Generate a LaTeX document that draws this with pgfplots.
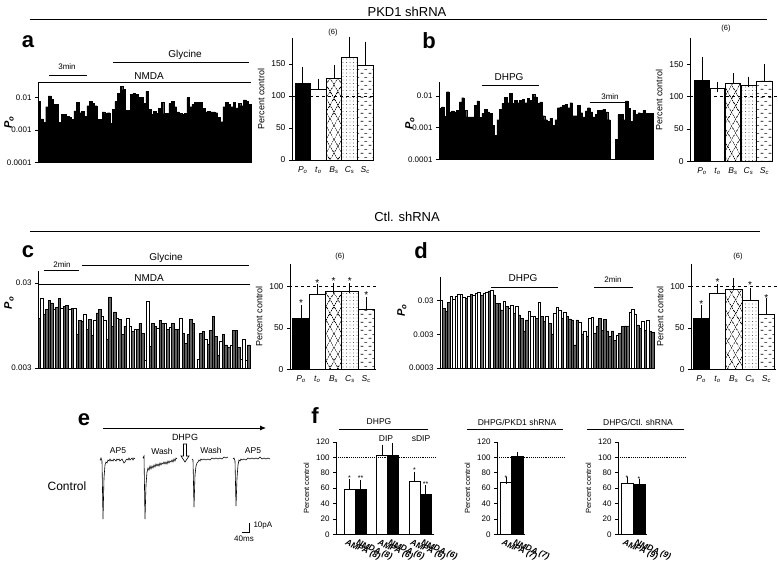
\documentclass[border=0pt]{standalone}
\usepackage{fontspec}
\setmainfont{Liberation Sans}
\usepackage{pgfplots}
\pgfplotsset{compat=1.18}
\usetikzlibrary{patterns,patterns.meta,arrows.meta}
\pgfdeclarepatternformonly{hdash}{\pgfqpoint{0pt}{0pt}}{\pgfqpoint{8pt}{8pt}}{\pgfqpoint{8pt}{8pt}}{%
  \pgfsetlinewidth{0.7pt}%
  \pgfpathmoveto{\pgfqpoint{0.8pt}{2pt}}\pgfpathlineto{\pgfqpoint{3.6pt}{2pt}}%
  \pgfpathmoveto{\pgfqpoint{4.8pt}{6pt}}\pgfpathlineto{\pgfqpoint{7.6pt}{6pt}}%
  \pgfusepath{stroke}}
\newcommand{\fs}[1]{\fontsize{#1}{#1}\selectfont}
\newcommand{\sub}[2]{\textit{#1}\textsubscript{\textit{#2}}}
\pgfplotsset{
  myBase/.style={scale only axis, axis lines*=left, tick align=outside,
    axis line style={line width=0.8pt},
    every tick/.style={black, line width=0.8pt}, major tick length=3pt,
    clip=false, /pgf/number format/assume math mode=true},
  mySeries/.style={myBase, xtick=\empty, yminorticks=false, xmin=-0.5,
    tick label style={font=\fs{8}},
    ylabel={\textbf{\sub{P}{o}}}, ylabel style={font=\fs{11}, anchor=center}},
  myChart/.style={myBase, ymin=0, xtick style={draw=none},
    tick label style={font=\fs{8.5}},
    ylabel={Percent control}, ylabel style={font=\fs{9}},
    xticklabels={\sub{P}{o},\sub{t}{o},\sub{B}{s},\sub{C}{s},\sub{S}{c}}},
  myF/.style={myBase, ymin=0, ymax=120, ytick={0,20,...,120}, xtick style={draw=none},
    tick label style={font=\fs{8}}, ylabel={Percent control}, ylabel style={font=\fs{7.5}},
    xticklabel style={font=\fs{8.5}\bfseries\itshape, rotate=-23, anchor=north west, xshift=-5pt, yshift=1pt}},
  myEb/.style={ybar, bar shift=0pt, draw=black, line width=0.9pt,
    error bars/.cd, y dir=plus, y explicit, error bar style={line width=0.9pt, solid},
    error mark options={line width=0.9pt, mark size=#1}},
  grayb/.style={ybar, bar width=1, bar shift=0pt, draw=black, line width=0.55pt, fill=black!62},
  whiteb/.style={ybar, bar width=1, bar shift=0pt, draw=black, line width=0.55pt, fill=white},
  blackb/.style={ybar, bar width=1, bar shift=0pt, draw=black, line width=0.3pt, fill=black},
  hatchx/.style={fill=white, postaction={pattern={Lines[angle=60,distance=6.5pt,line width=0.6pt]}},
    postaction={pattern={Lines[angle=-60,distance=6.5pt,line width=0.6pt]}}},
  dotsp/.style={fill=white, postaction={pattern={Dots[distance=3.5pt,radius=0.45pt]}}},
  dashp/.style={fill=white, postaction={pattern=hdash}},
}
\begin{document}
\begin{tikzpicture}
\path[use as bounding box] (0,0) rectangle (778pt,563pt);

% ---------- panel a series
\begin{axis}[ymode=log, log origin=infty, mySeries, at={(38pt,400.5pt)}, anchor=south west, width=213pt, height=80.5pt,
  xmax=82.5, ymin=1e-4, ymax=0.030, ytick={1e-4,1e-3,1e-2}, yticklabels={0.0001,0.001,0.01},
  ylabel style={at={(axis description cs:-0.136,0.5)}}]
\addplot[blackb] table[row sep=\\, x expr=\coordindex, y=v] {v\\0.0075\\0.0022\\0.0017\\0.0052\\0.0113\\0.0089\\0.0062\\0.0062\\0.0017\\0.0030\\0.0030\\0.0026\\0.0025\\0.0021\\0.0039\\0.0071\\0.0034\\0.0038\\0.0026\\0.0056\\0.0077\\0.0066\\0.0056\\0.0021\\0.0021\\0.0036\\0.0032\\0.0034\\0.0016\\0.0044\\0.0075\\0.0137\\0.0222\\0.0175\\0.0041\\0.0041\\0.0127\\0.0137\\0.0127\\0.0100\\0.0100\\0.0066\\0.0155\\0.0043\\0.0030\\0.0038\\0.0032\\0.0046\\0.0070\\0.0032\\0.0032\\0.0066\\0.0075\\0.0052\\0.0036\\0.0032\\0.0030\\0.0032\\0.0100\\0.0052\\0.0062\\0.0070\\0.0070\\0.0070\\0.0046\\0.0036\\0.0038\\0.0036\\0.0036\\0.0034\\0.0025\\0.0018\\0.0052\\0.0070\\0.0062\\0.0052\\0.0070\\0.0048\\0.0066\\0.0056\\0.0084\\0.0075\\0.0062\\};
\end{axis}

% ---------- panel a chart
\begin{axis}[myChart, at={(292pt,403pt)}, anchor=south west, width=81pt, height=121.6pt,
  xmin=292, xmax=373, ymax=190, ytick={0,50,100,150}, xtick={302.8,318.4,334,349.6,365.2}]
\addplot[fill=black, bar width=15.6, myEb=5pt] coordinates {(302.8,120) +- (0,17)};
\addplot[fill=white, bar width=15.6, myEb=5pt] coordinates {(318.4,110) +- (0,9)};
\addplot[hatchx, bar width=15.6, myEb=5pt] coordinates {(334,127) +- (0,13)};
\addplot[dotsp, bar width=15.6, myEb=5pt] coordinates {(349.6,161) +- (0,24)};
\addplot[dashp, bar width=15.6, myEb=5pt] coordinates {(365.2,147) +- (0,30)};
\draw[dashed, line width=0.8pt] (axis cs:292,100) -- (axis cs:375,100);
\end{axis}

% ---------- panel b series
\begin{axis}[ymode=log, log origin=infty, mySeries, at={(439pt,403.5pt)}, anchor=south west, width=214pt, height=77.8pt,
  xmax=84.5, ymin=1e-4, ymax=0.0284, ytick={1e-4,1e-3,1e-2}, yticklabels={0.0001,0.001,0.01},
  ylabel style={at={(axis description cs:-0.136,0.46)}}]
\addplot[blackb] table[row sep=\\, x expr=\coordindex, y=v] {v\\0.0041\\0.0046\\0.0023\\0.0137\\0.0032\\0.0034\\0.0032\\0.0036\\0.0066\\0.0089\\0.0036\\0.0022\\0.0022\\0.0022\\0.0052\\0.0071\\0.0021\\0.0028\\0.0038\\0.0032\\0.0028\\0.0012\\0.00059\\0.0018\\0.0039\\0.0059\\0.0091\\0.0062\\0.0121\\0.0059\\0.0075\\0.0062\\0.0075\\0.0079\\0.0062\\0.0084\\0.0075\\0.0113\\0.0095\\0.0059\\0.0066\\0.0024\\0.0018\\0.0016\\0.0020\\0.0012\\0.0018\\0.0043\\0.0046\\0.0050\\0.0056\\0.0043\\0.0062\\0.0024\\0.0024\\0.0050\\0.0030\\0.0022\\0.0034\\0.0043\\0.0032\\0.0022\\0.0026\\0.0036\\0.0036\\0.0038\\0.0032\\0.0018\\0.0001\\0.0001\\0.00043\\0.0026\\0.0026\\0.0018\\0.0071\\0.0041\\0.0016\\0.0036\\0.0026\\0.0030\\0.0028\\0.0035\\0.0028\\0.0028\\0.0028\\};
\end{axis}

% ---------- panel b chart
\begin{axis}[myChart, at={(690pt,401.5pt)}, anchor=south west, width=83pt, height=123.4pt,
  xmin=690, xmax=773, ymax=190, ytick={0,50,100,150}, xtick={702,717.5,733,748.5,764.5}]
\addplot[fill=black, bar width=15.6, myEb=5pt] coordinates {(702,124.6) +- (0,28.4)};
\addplot[fill=white, bar width=14, myEb=5pt] coordinates {(717.5,112) +- (0,3)};
\addplot[hatchx, bar width=15.6, myEb=5pt] coordinates {(733,120.6) +- (0,7.4)};
\addplot[dotsp, bar width=15, myEb=5pt] coordinates {(748.5,116.5) +- (0,6.5)};
\addplot[dashp, bar width=15.6, myEb=5pt] coordinates {(764.5,124) +- (0,18)};
\draw[dashed, line width=0.8pt] (axis cs:690,100) -- (axis cs:777,100);
\end{axis}

% ---------- panel c series
\begin{axis}[ymode=log, log origin=infty, mySeries, at={(38pt,195pt)}, anchor=south west, width=212pt, height=97pt,
  xmax=83.5, ymin=0.003, ymax=0.0414, ytick={0.003,0.03}, yticklabels={0.003,0.03},
  ylabel style={at={(axis description cs:-0.137,0.67)}}]
\addplot[grayb] table[row sep=\\, x expr=\coordindex, y=g] {g w\\0.0116 nan\\nan 0.0200\\0.0127 nan\\0.0148 nan\\0.0186 nan\\0.0175 nan\\nan 0.0146\\0.0155 nan\\0.0196 nan\\nan 0.0152\\0.0159 nan\\0.0164 nan\\nan 0.0146\\0.0152 nan\\nan 0.0152\\0.0074 nan\\0.0108 nan\\0.0106 nan\\nan 0.0127\\0.0085 nan\\0.0111 nan\\0.0072 nan\\nan 0.0108\\0.0133 nan\\0.0148 nan\\nan 0.0122\\nan 0.0108\\0.0066 nan\\0.0205 nan\\0.0093 nan\\0.0137 nan\\nan 0.0116\\0.0111 nan\\0.0074 nan\\0.0093 nan\\nan 0.0116\\nan 0.0093\\0.0081 nan\\nan 0.0086\\0.0086 nan\\0.0101 nan\\0.0076 nan\\nan 0.0037\\nan 0.0182\\0.0054 nan\\0.0101 nan\\0.0093 nan\\nan 0.0087\\0.0109 nan\\0.0101 nan\\nan 0.0101\\0.0085 nan\\nan 0.0090\\0.0101 nan\\0.0085 nan\\0.0085 nan\\nan 0.0116\\0.0076 nan\\0.0059 nan\\0.0074 nan\\0.0111 nan\\0.0100 nan\\nan 0.0030\\nan 0.0038\\0.0076 nan\\0.0080 nan\\nan 0.0065\\0.0057 nan\\0.0083 nan\\0.0120 nan\\0.0071 nan\\0.0042 nan\\nan 0.0062\\0.0074 nan\\0.0056 nan\\0.0052 nan\\nan 0.0056\\0.0083 nan\\0.0083 nan\\0.0052 nan\\nan 0.0038\\nan 0.0066\\nan 0.0037\\0.0056 nan\\};
\addplot[whiteb] table[row sep=\\, x expr=\coordindex, y=w] {g w\\0.0116 nan\\nan 0.0200\\0.0127 nan\\0.0148 nan\\0.0186 nan\\0.0175 nan\\nan 0.0146\\0.0155 nan\\0.0196 nan\\nan 0.0152\\0.0159 nan\\0.0164 nan\\nan 0.0146\\0.0152 nan\\nan 0.0152\\0.0074 nan\\0.0108 nan\\0.0106 nan\\nan 0.0127\\0.0085 nan\\0.0111 nan\\0.0072 nan\\nan 0.0108\\0.0133 nan\\0.0148 nan\\nan 0.0122\\nan 0.0108\\0.0066 nan\\0.0205 nan\\0.0093 nan\\0.0137 nan\\nan 0.0116\\0.0111 nan\\0.0074 nan\\0.0093 nan\\nan 0.0116\\nan 0.0093\\0.0081 nan\\nan 0.0086\\0.0086 nan\\0.0101 nan\\0.0076 nan\\nan 0.0037\\nan 0.0182\\0.0054 nan\\0.0101 nan\\0.0093 nan\\nan 0.0087\\0.0109 nan\\0.0101 nan\\nan 0.0101\\0.0085 nan\\nan 0.0090\\0.0101 nan\\0.0085 nan\\0.0085 nan\\nan 0.0116\\0.0076 nan\\0.0059 nan\\0.0074 nan\\0.0111 nan\\0.0100 nan\\nan 0.0030\\nan 0.0038\\0.0076 nan\\0.0080 nan\\nan 0.0065\\0.0057 nan\\0.0083 nan\\0.0120 nan\\0.0071 nan\\0.0042 nan\\nan 0.0062\\0.0074 nan\\0.0056 nan\\0.0052 nan\\nan 0.0056\\0.0083 nan\\0.0083 nan\\0.0052 nan\\nan 0.0038\\nan 0.0066\\nan 0.0037\\0.0056 nan\\};
\end{axis}

% ---------- panel c chart
\begin{axis}[myChart, at={(290pt,193.7pt)}, anchor=south west, width=86pt, height=105.3pt,
  xmin=290, xmax=376, ymax=127.5, ytick={0,50,100}, xtick={301,317.3,333.6,349.9,366.2}]
\addplot[fill=black, bar width=16.3, myEb=5pt] coordinates {(301,61) +- (0,11)};
\addplot[fill=white, bar width=16.3, myEb=5pt] coordinates {(317.3,90.7) +- (0,6)};
\addplot[hatchx, bar width=16.3, myEb=5pt] coordinates {(333.6,94) +- (0,4)};
\addplot[dotsp, bar width=16.3, myEb=5pt] coordinates {(349.9,94) +- (0,4)};
\addplot[dashp, bar width=16.3, myEb=5pt] coordinates {(366.2,72.6) +- (0,8.5)};
\draw[dashed, line width=0.8pt] (axis cs:289,100) -- (axis cs:377,100);
\node[font=\fs{10}] at (axis cs:301,80) {*};
\node[font=\fs{10}] at (axis cs:317.3,105) {*};
\node[font=\fs{10}] at (axis cs:333.6,107) {*};
\node[font=\fs{10}] at (axis cs:349.9,107) {*};
\node[font=\fs{10}] at (axis cs:366.2,90) {*};
\end{axis}

% ---------- panel d series
\begin{axis}[ymode=log, log origin=infty, mySeries, at={(440pt,195pt)}, anchor=south west, width=214pt, height=91pt,
  xmax=84.5, ymin=0.0003, ymax=0.15, ytick={0.0003,0.003,0.03}, yticklabels={0.0003,0.003,0.03},
  ylabel style={at={(axis description cs:-0.178,0.63)}}]
\addplot[grayb] table[row sep=\\, x expr=\coordindex, y=g] {g w\\nan 0.0300\\0.0178 nan\\0.0141 nan\\0.0268 nan\\nan 0.0395\\nan 0.0336\\nan 0.0413\\nan 0.0463\\nan 0.0463\\nan 0.0377\\0.0352 nan\\nan 0.0395\\0.0463 nan\\nan 0.0442\\nan 0.0485\\nan 0.0519\\0.0442 nan\\nan 0.0497\\nan 0.0519\\0.0581 nan\\nan 0.0622\\0.0442 nan\\0.0250 nan\\0.0250 nan\\0.0158 nan\\nan 0.0293\\0.0199 nan\\nan 0.0178\\nan 0.0213\\0.0126 nan\\nan 0.0199\\0.0112 nan\\0.0090 nan\\0.0038 nan\\0.0080 nan\\nan 0.0141\\nan 0.0100\\nan 0.0100\\0.0090 nan\\nan 0.0268\\0.0100 nan\\0.0071 nan\\nan 0.0100\\0.0064 nan\\0.0031 nan\\nan 0.0126\\nan 0.0190\\nan 0.0158\\0.0090 nan\\nan 0.0135\\0.0100 nan\\0.0086 nan\\0.0080 nan\\0.00145 nan\\0.0080 nan\\nan 0.0067\\0.0031 nan\\nan 0.0036\\0.0027 nan\\nan 0.0090\\nan 0.0096\\0.0032 nan\\0.0053 nan\\0.0090 nan\\0.0039 nan\\0.0084 nan\\0.0038 nan\\0.0026 nan\\0.0038 nan\\0.0020 nan\\nan 0.0029\\0.0032 nan\\0.0051 nan\\0.0053 nan\\0.0053 nan\\nan 0.0135\\nan 0.0166\\nan 0.0121\\0.0057 nan\\0.0045 nan\\nan 0.0072\\0.0040 nan\\nan 0.0080\\0.0037 nan\\0.0035 nan\\};
\addplot[whiteb] table[row sep=\\, x expr=\coordindex, y=w] {g w\\nan 0.0300\\0.0178 nan\\0.0141 nan\\0.0268 nan\\nan 0.0395\\nan 0.0336\\nan 0.0413\\nan 0.0463\\nan 0.0463\\nan 0.0377\\0.0352 nan\\nan 0.0395\\0.0463 nan\\nan 0.0442\\nan 0.0485\\nan 0.0519\\0.0442 nan\\nan 0.0497\\nan 0.0519\\0.0581 nan\\nan 0.0622\\0.0442 nan\\0.0250 nan\\0.0250 nan\\0.0158 nan\\nan 0.0293\\0.0199 nan\\nan 0.0178\\nan 0.0213\\0.0126 nan\\nan 0.0199\\0.0112 nan\\0.0090 nan\\0.0038 nan\\0.0080 nan\\nan 0.0141\\nan 0.0100\\nan 0.0100\\0.0090 nan\\nan 0.0268\\0.0100 nan\\0.0071 nan\\nan 0.0100\\0.0064 nan\\0.0031 nan\\nan 0.0126\\nan 0.0190\\nan 0.0158\\0.0090 nan\\nan 0.0135\\0.0100 nan\\0.0086 nan\\0.0080 nan\\0.00145 nan\\0.0080 nan\\nan 0.0067\\0.0031 nan\\nan 0.0036\\0.0027 nan\\nan 0.0090\\nan 0.0096\\0.0032 nan\\0.0053 nan\\0.0090 nan\\0.0039 nan\\0.0084 nan\\0.0038 nan\\0.0026 nan\\0.0038 nan\\0.0020 nan\\nan 0.0029\\0.0032 nan\\0.0051 nan\\0.0053 nan\\0.0053 nan\\nan 0.0135\\nan 0.0166\\nan 0.0121\\0.0057 nan\\0.0045 nan\\nan 0.0072\\0.0040 nan\\nan 0.0080\\0.0037 nan\\0.0035 nan\\};
\end{axis}

% ---------- panel d chart
\begin{axis}[myChart, at={(691pt,193.7pt)}, anchor=south west, width=85pt, height=105.3pt,
  xmin=691, xmax=776, ymax=127.5, ytick={0,50,100}, xtick={701.2,717.5,733.8,750.1,766.4}]
\addplot[fill=black, bar width=16.3, myEb=5pt] coordinates {(701.2,61.4) +- (0,10.6)};
\addplot[fill=white, bar width=16.3, myEb=5pt] coordinates {(717.5,92) +- (0,4.7)};
\addplot[hatchx, bar width=16.3, myEb=5pt] coordinates {(733.8,96.7) +- (0,7.3)};
\addplot[dotsp, bar width=16.3, myEb=5pt] coordinates {(750.1,83) +- (0,9.7)};
\addplot[dashp, bar width=16.3, myEb=5pt] coordinates {(766.4,66) +- (0,14)};
\draw[dashed, line width=0.8pt] (axis cs:690,100) -- (axis cs:778,100);
\node[font=\fs{10}] at (axis cs:701.2,79.5) {*};
\node[font=\fs{10}] at (axis cs:717.5,105.7) {*};
\node[font=\fs{10}] at (axis cs:750.1,101.7) {*};
\node[font=\fs{10}] at (axis cs:766.4,86) {*};
\end{axis}

% ---------- panel e traces
\begin{axis}[hide axis, scale only axis, at={(95pt,38pt)}, anchor=south west, width=180pt, height=75pt,
  xmin=95, xmax=275, ymin=-525, ymax=-450, clip=false]
\addplot[black, line width=0.6pt] coordinates {(100,-460.5)(101,-458)(102,-461)(103,-519)(104,-478)(105,-465)(106,-462)(107,-463)(108,-460)(109,-461)(110,-459)(111,-461)(112,-460)(113,-461)(114,-459)(115,-460)(116,-461)(117,-459)(118,-460)(119,-459)(120,-461)(121,-460)(122,-459)(123,-461)(124,-463)(125,-462)(126,-460)(127,-459)(128,-460)(129,-458)(130,-460)(131,-459)(132,-458)(133,-460)(134,-458)(135,-459)};
\addplot[black, line width=0.6pt] coordinates {(143,-458)(144,-456)(145,-519)(146,-485)(147,-472)(148,-468)(149,-470)(150,-466)(151,-469)(152,-466)(153,-468)(154,-465)(155,-467)(156,-464)(157,-466)(158,-464)(159,-466)(160,-463)(161,-465)(162,-463)(163,-464)(164,-462)(165,-464)(166,-462)(167,-464)(168,-461)(169,-463)(170,-461)(171,-462)(172,-460)(173,-462)(174,-459)(175,-461)(176,-458)(177,-459)};
\addplot[black, line width=0.6pt] coordinates {(192,-459)(193,-460)(194,-507)(195,-475)(196,-466)(197,-463)(198,-462)(199,-460)(200,-461)(201,-459)(202,-460)(204,-459)(206,-460)(208,-459)(210,-460)(212,-458)(214,-459)(216,-458)(218,-459)(220,-458)(222,-459)(224,-457)(226,-458)(228,-457)};
\addplot[black, line width=0.6pt] coordinates {(233,-459)(234,-458)(235,-461)(236,-506)(237,-478)(238,-465)(239,-460)(240,-461)(241,-459)(242,-460)(244,-459)(246,-460)(248,-458)(250,-459)(252,-458)(254,-459)(256,-458)(258,-459)(260,-457)(262,-459)(264,-458)(266,-459)(268,-458)(270,-459)};
\end{axis}

% ---------- panel f charts
\begin{axis}[myF, at={(336pt,28.7pt)}, anchor=south west, width=98pt, height=92.3pt,
  xmin=336, xmax=434, xtick={349.5,360.5,382,392.5,414.5,425.5},
  xticklabels={AMPA (8),NMDA (8),AMPA (6),NMDA (6),AMPA (6),NMDA (6)}]
\addplot[fill=white, bar width=11, myEb=3.5pt] coordinates {(349.5,58) +- (0,9) (382,102) +- (0,10) (414.5,69) +- (0,8)};
\addplot[fill=black, bar width=11, myEb=3.5pt] coordinates {(360.5,58) +- (0,8) (392.5,102) +- (0,12) (425.5,52) +- (0,7.5)};
\draw[densely dotted, line width=0.9pt] (axis cs:336,100) -- (axis cs:436,100);
\node[font=\fs{7}] at (axis cs:349.5,73) {*};
\node[font=\fs{7}] at (axis cs:360.5,73) {**};
\node[font=\fs{7}] at (axis cs:414.5,84) {*};
\node[font=\fs{7}] at (axis cs:425.5,65) {**};
\end{axis}
\begin{axis}[myF, at={(497pt,28.7pt)}, anchor=south west, width=28pt, height=92.3pt,
  xmin=497, xmax=525, xtick={506,517.5}, xticklabels={AMPA (7),NMDA (7)}]
\addplot[fill=white, bar width=11.5, myEb=3.5pt] coordinates {(506,67) +- (0,3)};
\addplot[fill=black, bar width=11.5, myEb=3.5pt] coordinates {(517.5,101) +- (0,1)};
\draw[densely dotted, line width=0.9pt] (axis cs:497,100) -- (axis cs:565,100);
\node[font=\fs{7}] at (axis cs:506,73) {*};
\end{axis}
\begin{axis}[myF, at={(618pt,28.7pt)}, anchor=south west, width=29pt, height=92.3pt,
  xmin=618, xmax=647, xtick={627,639}, xticklabels={AMPA (9),NMDA (9)}]
\addplot[fill=white, bar width=12, myEb=3.5pt] coordinates {(627,66) +- (0,4)};
\addplot[fill=black, bar width=12, myEb=3.5pt] coordinates {(639,65) +- (0,3)};
\draw[densely dotted, line width=0.9pt] (axis cs:618,100) -- (axis cs:685,100);
\node[font=\fs{7}] at (axis cs:627,73) {*};
\node[font=\fs{7}] at (axis cs:639,72) {*};
\end{axis}

% ---------- annotations
\begin{scope}[x=1pt,y=1pt]
\node[font=\fs{13}] at (407,551) {PKD1 shRNA};
\draw[line width=0.9pt] (30,544) -- (767,544);
\node[font=\fs{13}] at (407,346) {Ctl. shRNA};
\draw[line width=0.9pt] (30,332) -- (760,332);
\foreach \l/\x/\y in {a/28/521,b/429/522,c/28/311,d/421/312,e/84/143,f/315/147}
  \node[font=\fs{22}\bfseries] at (\x,\y) {\l};
% a
\node[font=\fs{10}] at (185,508) {Glycine};
\draw[line width=0.8pt] (113,501) -- (249,501);
\node[font=\fs{8}] at (67,496) {3min};
\draw[line width=0.8pt] (49,488) -- (87,488);
\node[font=\fs{10}] at (149,487) {NMDA};
\draw[line width=0.8pt] (38,481) -- (251,481);
\node[font=\fs{7.5}] at (333,530) {(6)};
% b
\node[font=\fs{10}] at (509,486) {DHPG};
\draw[line width=0.8pt] (482,478) -- (539,478);
\node[font=\fs{8}] at (610,466) {3min};
\draw[line width=0.8pt] (590,461) -- (629,461);
\node[font=\fs{7.5}] at (726,534) {(6)};
% c
\node[font=\fs{10}] at (166,305) {Glycine};
\draw[line width=0.8pt] (82,298) -- (249,298);
\node[font=\fs{8}] at (62,298) {2min};
\draw[line width=0.8pt] (44,293) -- (79,293);
\node[font=\fs{10}] at (149,285) {NMDA};
\draw[line width=0.8pt] (39,279) -- (250,279);
\node[font=\fs{7.5}] at (340,306) {(6)};
% d
\node[font=\fs{10}] at (523,285) {DHPG};
\draw[line width=0.8pt] (491,276) -- (558,276);
\node[font=\fs{8}] at (613,283) {2min};
\draw[line width=0.8pt] (594,276) -- (633,276);
\node[font=\fs{7.5}] at (738,306) {(6)};
% e
\draw[line width=0.8pt, -{Latex[length=6pt,width=5pt]}] (103,135) -- (266,135);
\node[font=\fs{9}] at (185,126) {DHPG};
\node[font=\fs{8.5}] at (118,112) {AP5};
\node[font=\fs{8.5}] at (162,112) {Wash};
\node[font=\fs{8.5}] at (211,113) {Wash};
\node[font=\fs{8.5}] at (253,112) {AP5};
\draw[line width=0.6pt, fill=white] (183.5,119) -- (186.5,119) -- (186.5,107) -- (189,107) -- (185,101) -- (181,107) -- (183.5,107) -- cycle;
\node[font=\fs{12}] at (67,77) {Control};
\draw[line width=0.8pt] (242,31) -- (249,31) -- (249,40);
\node[font=\fs{8}, anchor=west] at (250,37) {10pA};
\node[font=\fs{8}] at (244,24) {40ms};
% f
\node[font=\fs{8.5}] at (379,141) {DHPG};
\draw[line width=0.8pt] (339,134) -- (428,134);
\node[font=\fs{8.5}] at (386,124) {DIP};
\node[font=\fs{8.5}] at (421,124) {sDIP};
\node[font=\fs{8.5}] at (517,141) {DHPG/PKD1 shRNA};
\draw[line width=0.8pt] (467,134) -- (563,134);
\node[font=\fs{8.5}] at (638,141) {DHPG/Ctl. shRNA};
\draw[line width=0.8pt] (587,134) -- (684,134);
\end{scope}
\end{tikzpicture}
\end{document}
